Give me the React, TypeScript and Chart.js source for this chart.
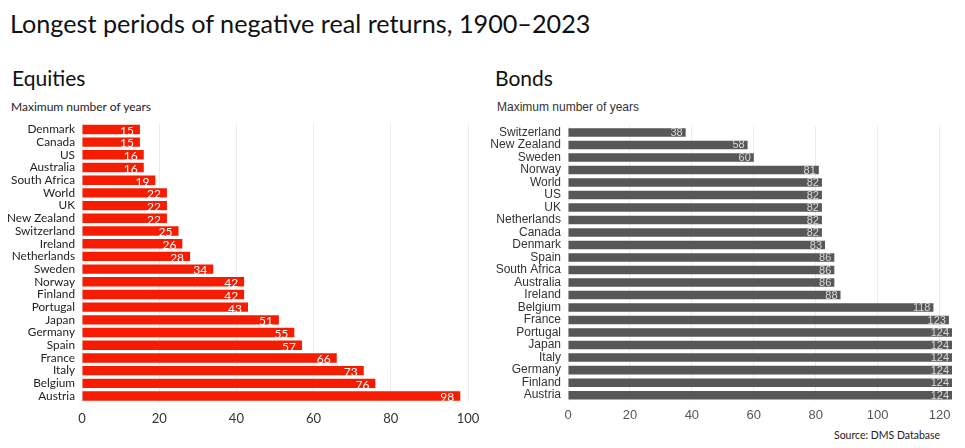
import React, { useEffect, useRef } from "react";
import { Chart, registerables } from "chart.js";

Chart.register(...registerables);

const equityCountries = [
  "Denmark", "Canada", "US", "Australia", "South Africa", "World", "UK", "New Zealand",
  "Switzerland", "Ireland", "Netherlands", "Sweden", "Norway", "Finland", "Portugal",
  "Japan", "Germany", "Spain", "France", "Italy", "Belgium", "Austria",
];
const equityYears = [15, 15, 16, 16, 19, 22, 22, 22, 25, 26, 28, 34, 42, 42, 43, 51, 55, 57, 66, 73, 76, 98];

const bondCountries = [
  "Switzerland", "New Zealand", "Sweden", "Norway", "World", "US", "UK", "Netherlands",
  "Canada", "Denmark", "Spain", "South Africa", "Australia", "Ireland", "Belgium", "France",
  "Portugal", "Japan", "Italy", "Germany", "Finland", "Austria",
];
const bondYears = [38, 58, 60, 81, 82, 82, 82, 82, 82, 83, 86, 86, 86, 88, 118, 123, 124, 124, 124, 124, 124, 124];

const equityTicks = [0, 20, 40, 60, 80, 100];
const bondTicks = [0, 20, 40, 60, 80, 100, 120];

const valueLabels = {
  id: "valueLabels",
  afterDatasetsDraw(chart: any, _args: any, opts: any) {
    const ctx = chart.ctx;
    const meta = chart.getDatasetMeta(0);
    const data = chart.data.datasets[0].data;
    ctx.save();
    ctx.font = opts.font;
    ctx.fillStyle = opts.color;
    ctx.textAlign = "right";
    ctx.textBaseline = "middle";
    meta.data.forEach((bar: any, i: number) => {
      ctx.fillText(String(data[i]), bar.x - opts.offset, bar.y + opts.dy);
    });
    ctx.restore();
  },
};

type PanelProps = {
  labels: string[];
  values: number[];
  ticks: number[];
  max: number;
  color: string;
  width: number;
  height: number;
  axisWidth: number;
  padRight: number;
  padTop: number;
  labelFont: string;
  labelSize: number;
  labelColor: string;
  tickColor: string;
  barPct: number;
  valueFont: string;
  valueColor: string;
  valueOffset: number;
  valueDy: number;
  tickPadding: number;
  style: React.CSSProperties;
};

function BarPanel(p: PanelProps) {
  const ref = useRef<HTMLCanvasElement | null>(null);
  useEffect(() => {
    if (!ref.current) return;
    const chart = new Chart(ref.current, {
      type: "bar",
      data: {
        labels: p.labels,
        datasets: [
          {
            data: p.values,
            backgroundColor: p.color,
            borderWidth: 0,
            categoryPercentage: 1,
            barPercentage: p.barPct,
          },
        ],
      },
      options: {
        indexAxis: "y",
        responsive: false,
        animation: false,
        devicePixelRatio: 1,
        layout: { padding: { left: 0, right: p.padRight, top: p.padTop, bottom: 0 } },
        plugins: {
          legend: { display: false },
          tooltip: { enabled: false },
          title: { display: false },
          valueLabels: {
            font: p.valueFont,
            color: p.valueColor,
            offset: p.valueOffset,
            dy: p.valueDy,
          },
        } as any,
        scales: {
          x: {
            min: 0,
            max: p.max,
            afterBuildTicks: (scale: any) => {
              scale.ticks = p.ticks.map((v) => ({ value: v }));
            },
            afterFit: (scale: any) => {
              scale.paddingLeft = 0;
              scale.paddingRight = 0;
            },
            grid: { color: "#ececec", drawTicks: false, lineWidth: 1 },
            border: { display: false },
            ticks: {
              color: p.tickColor,
              font: { family: p.labelFont, size: 13 },
              padding: p.tickPadding,
              maxRotation: 0,
            },
          },
          y: {
            grid: { display: false, drawTicks: false },
            border: { display: false },
            afterFit: (scale: any) => {
              scale.width = p.axisWidth;
            },
            ticks: {
              color: p.labelColor,
              font: { family: p.labelFont, size: p.labelSize },
              padding: 7,
              autoSkip: false,
            },
          },
        },
      },
      plugins: [valueLabels],
    });
    return () => chart.destroy();
  }, []);
  return <canvas ref={ref} width={p.width} height={p.height} style={p.style} />;
}

export default function App() {
  const calibri = "Lato, 'Open Sans', sans-serif";
  const arial = "'Liberation Sans', Arial, sans-serif";
  return (
    <div
      style={{
        position: "absolute",
        left: 0,
        top: 0,
        width: 965,
        height: 448,
        background: "#ffffff",
        overflow: "hidden",
      }}
    >
      <div
        style={{
          position: "absolute",
          left: 10,
          top: 8,
          fontFamily: calibri,
          fontSize: 25.2,
          lineHeight: "30px",
          color: "#111",
          whiteSpace: "nowrap",
        }}
      >
        Longest periods of negative real returns, 1900–2023
      </div>
      <div
        style={{
          position: "absolute",
          left: 12,
          top: 65,
          fontFamily: calibri,
          fontSize: 21,
          lineHeight: "26px",
          color: "#111",
        }}
      >
        Equities
      </div>
      <div
        style={{
          position: "absolute",
          left: 495,
          top: 65,
          fontFamily: calibri,
          fontSize: 21,
          lineHeight: "26px",
          color: "#111",
        }}
      >
        Bonds
      </div>
      <div
        style={{
          position: "absolute",
          left: 11,
          top: 100,
          fontFamily: calibri,
          fontSize: 12,
          lineHeight: "14px",
          color: "#222",
        }}
      >
        Maximum number of years
      </div>
      <div
        style={{
          position: "absolute",
          left: 497,
          top: 100,
          fontFamily: arial,
          fontSize: 12,
          lineHeight: "14px",
          color: "#333",
        }}
      >
        Maximum number of years
      </div>
      <div
        style={{
          position: "absolute",
          left: 834,
          top: 428,
          fontFamily: calibri,
          fontSize: 10.5,
          lineHeight: "14px",
          color: "#222",
        }}
      >
        Source: DMS Database
      </div>

      <BarPanel
        labels={equityCountries}
        values={equityYears}
        ticks={equityTicks}
        max={100}
        color="#f51c02"
        width={480}
        height={327}
        axisWidth={82}
        padRight={12}
        padTop={2}
        labelFont={calibri}
        labelSize={11.8}
        labelColor="#222"
        tickColor="#333"
        barPct={0.74}
        valueFont={"12px Lato, sans-serif"}
        valueColor="#ffffff"
        valueOffset={6}
        valueDy={1.5}
        tickPadding={9}
        style={{ position: "absolute", left: 0, top: 109 }}
      />
      <BarPanel
        labels={bondCountries}
        values={bondYears}
        ticks={bondTicks}
        max={124}
        color="#575757"
        width={485}
        height={317}
        axisWidth={88}
        padRight={13}
        padTop={7}
        labelFont={arial}
        labelSize={12}
        labelColor="#333"
        tickColor="#555"
        barPct={0.68}
        valueFont={"11px 'Liberation Sans', Arial, sans-serif"}
        valueColor="#d8d8d8"
        valueOffset={3}
        valueDy={0.5}
        tickPadding={6}
        style={{ position: "absolute", left: 480, top: 112 }}
      />
    </div>
  );
}
